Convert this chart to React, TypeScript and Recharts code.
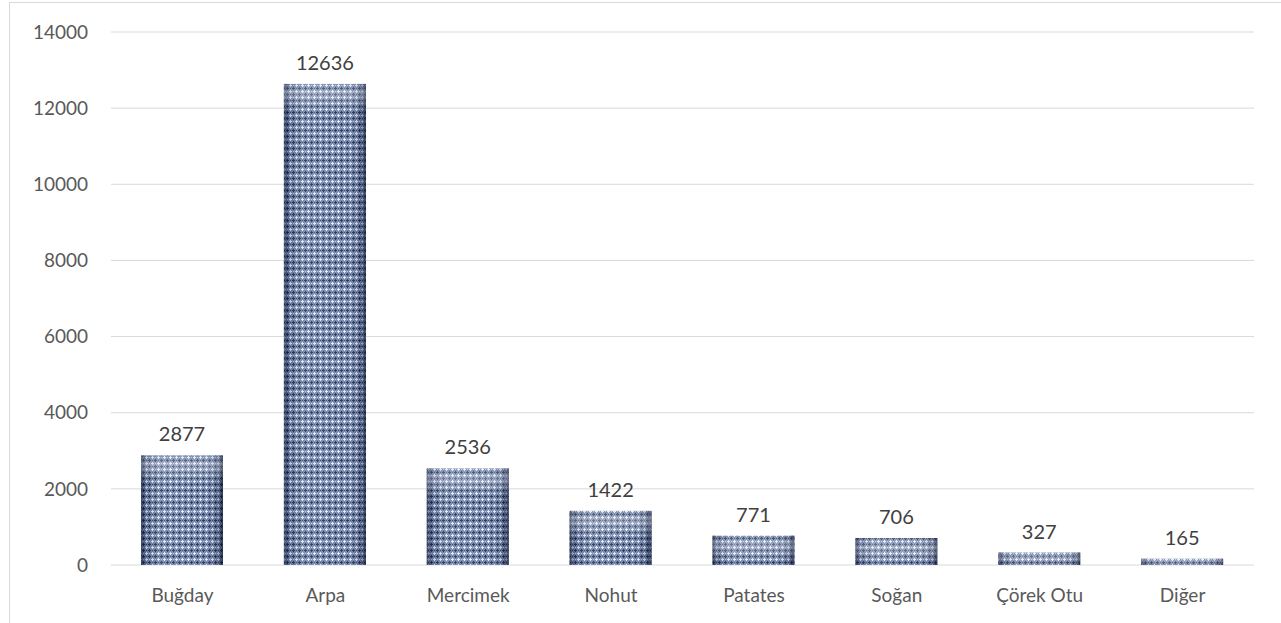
import React from 'react';
import { BarChart, Bar, XAxis, YAxis, CartesianGrid, LabelList } from 'recharts';

const categories = ['Buğday', 'Arpa', 'Mercimek', 'Nohut', 'Patates', 'Soğan', 'Çörek Otu', 'Diğer'];
const values = [2877, 12636, 2536, 1422, 771, 706, 327, 165];
const yTicks = [0, 2000, 4000, 6000, 8000, 10000, 12000, 14000];

const data = categories.map((name, i) => ({ name, value: values[i] }));

const FONT = 'Lato, "Noto Sans", sans-serif';

// patterned bar with bevel-like shading
const PatternBar = (props: any) => {
  const { x, y, width, height } = props;
  if (!height || height <= 0) return null;
  return (
    <g>
      <rect x={x} y={y} width={width} height={height} fill="url(#weave)" />
      <rect x={x} y={y} width={width} height={height} fill="url(#sideShade)" />
      <rect x={x} y={y} width={width} height={Math.min(height, 26)} fill="url(#topShade)" />
    </g>
  );
};

export default function App() {
  return (
    <div
      style={{
        position: 'absolute',
        left: 9,
        top: 2,
        width: 1290,
        height: 640,
        border: '1px solid #d9d9d9',
        background: '#fff',
      }}
    >
      <BarChart
        width={1290}
        height={640}
        data={data}
        margin={{ top: 29, right: 46, left: 0, bottom: 48 }}
      >
        <defs>
          <pattern id="weave" width="6" height="6" patternUnits="userSpaceOnUse">
            <rect width="6" height="6" fill="#7486aa" />
            {/* dark plus */}
            <rect x="0" y="1" width="3" height="1" fill="#243257" />
            <rect x="1" y="0" width="1" height="3" fill="#243257" />
            {/* light plus */}
            <rect x="3" y="4" width="3" height="1" fill="#e2e9f5" />
            <rect x="4" y="3" width="1" height="3" fill="#e2e9f5" />
            <rect x="4" y="1" width="1" height="1" fill="#3a4a70" />
            <rect x="1" y="4" width="1" height="1" fill="#b8c6de" />
          </pattern>
          <linearGradient id="sideShade" x1="0" y1="0" x2="1" y2="0">
            <stop offset="0" stopColor="#0b1430" stopOpacity={0.6} />
            <stop offset="0.07" stopColor="#0b1430" stopOpacity={0.15} />
            <stop offset="0.25" stopColor="#ffffff" stopOpacity={0.1} />
            <stop offset="0.75" stopColor="#ffffff" stopOpacity={0.05} />
            <stop offset="0.93" stopColor="#0b1430" stopOpacity={0.2} />
            <stop offset="1" stopColor="#0b1430" stopOpacity={0.7} />
          </linearGradient>
          <linearGradient id="topShade" x1="0" y1="0" x2="0" y2="1">
            <stop offset="0" stopColor="#ffffff" stopOpacity={0.05} />
            <stop offset="0.35" stopColor="#ffffff" stopOpacity={0.28} />
            <stop offset="1" stopColor="#ffffff" stopOpacity={0} />
          </linearGradient>
        </defs>
        <CartesianGrid vertical={false} stroke="#d9d9d9" strokeWidth={1} />
        <XAxis
          dataKey="name"
          axisLine={false}
          tickLine={false}
          height={30}
          tickMargin={18}
          tick={{ fill: '#595959', fontSize: 19, fontFamily: FONT }}
        />
        <YAxis
          width={101}
          domain={[0, 14000]}
          ticks={yTicks}
          axisLine={false}
          tickLine={false}
          tickMargin={17}
          tick={{ fill: '#595959', fontSize: 19, fontFamily: FONT }}
        />
        <Bar dataKey="value" barSize={82} shape={<PatternBar />} isAnimationActive={false}>
          <LabelList
            dataKey="value"
            position="top"
            offset={14}
            style={{ fill: '#404040', fontSize: 20, fontFamily: FONT }}
          />
        </Bar>
      </BarChart>
    </div>
  );
}
